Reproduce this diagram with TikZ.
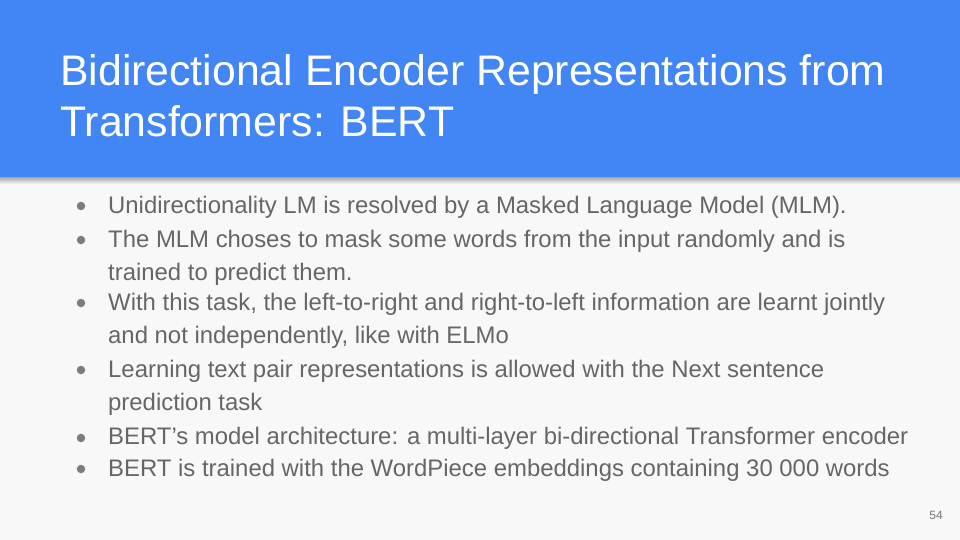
\documentclass[tikz,border=0pt]{standalone}
\usepackage{fontspec}
\setmainfont{Liberation Sans}
\usetikzlibrary{positioning}
\definecolor{bandblue}{HTML}{4285F4}
\definecolor{slidebg}{HTML}{F8F8F8}
\definecolor{bodygray}{HTML}{666666}
\tikzset{
 titleline/.style={anchor=base west,text=white,inner sep=0pt,font=\fontsize{42.8}{50}\selectfont},
 bodyline/.style={anchor=base west,text=bodygray,inner sep=0pt,font=\fontsize{23.9}{28}\selectfont},
 dot/.style={circle,fill=bodygray!85,inner sep=0pt,minimum size=8.5pt}
}
\begin{document}
\begin{tikzpicture}[x=1pt,y=-1pt]
 \useasboundingbox (0,0) rectangle (960,540);
 \fill[slidebg] (0,0) rectangle (960,540);
 % shadow under the band
 \shade[top color=black!35,bottom color=slidebg] (0,177) rectangle (960,184);
 \fill[bandblue] (0,0) rectangle (960,177);
 \node[titleline] (t1) at (60,86) {Bidirectional Encoder Representations from};
 \node[titleline] (t2) at (60,137) {Transformers: BERT};
 % bullets
 \node[dot] (d1) at (81,206) {};
 \node[bodyline] (b1) at (108,213) {Unidirectionality LM is resolved by a Masked Language Model (MLM).};
 \node[dot] (d2) at (81,240) {};
 \node[bodyline] (b2) at (108,247) {The MLM choses to mask some words from the input randomly and is};
 \node[bodyline] (b2b) at (108,280) {trained to predict them.};
 \node[dot] (d3) at (81,303) {};
 \node[bodyline] (b3) at (108,310) {With this task, the left-to-right and right-to-left information are learnt jointly};
 \node[bodyline] (b3b) at (108,343) {and not independently, like with ELMo};
 \node[dot] (d4) at (81,370) {};
 \node[bodyline] (b4) at (108,377) {Learning text pair representations is allowed with the Next sentence};
 \node[bodyline] (b4b) at (108,410) {prediction task};
 \node[dot] (d5) at (81,438) {};
 \node[bodyline] (b5) at (108,444) {BERT’s model architecture: a multi-layer bi-directional Transformer encoder};
 \node[dot] (d6) at (81,469) {};
 \node[bodyline] (b6) at (108,476) {BERT is trained with the WordPiece embeddings containing 30 000 words};
 \node[anchor=base east,text=bodygray!90,inner sep=0pt,font=\fontsize{12}{14}\selectfont] (pg) at (943,519) {54};
\end{tikzpicture}
\end{document}
